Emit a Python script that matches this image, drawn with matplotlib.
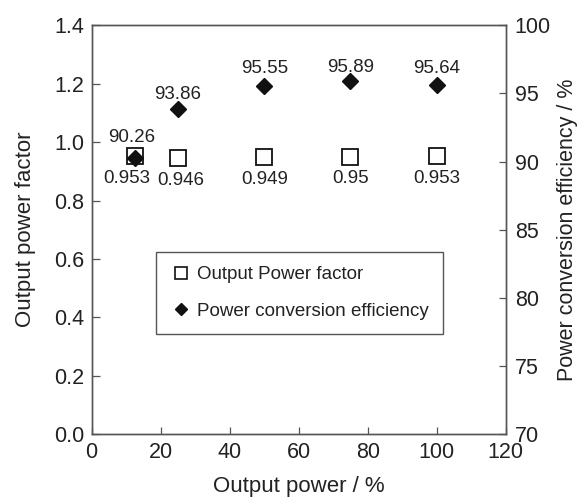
import matplotlib
matplotlib.use("Agg")
import matplotlib.pyplot as plt
from matplotlib.lines import Line2D

plt.rcParams['font.family'] = ['Liberation Sans', 'DejaVu Sans']

# data
load_pct = [12.5, 25, 50, 75, 100]
power_factor = [0.953, 0.946, 0.949, 0.95, 0.953]
efficiency = [90.26, 93.86, 95.55, 95.89, 95.64]

pf_labels = ["0.953", "0.946", "0.949", "0.95", "0.953"]
eff_labels = ["90.26", "93.86", "95.55", "95.89", "95.64"]

txt = '#222222'
spine = '#555555'

fig = plt.figure(figsize=(5.8, 4.98), dpi=100)
ax = fig.add_axes([0.158, 0.1285, 0.714, 0.8205])
ax2 = ax.twinx()

ax.plot(load_pct, power_factor, ls='none', marker='s', ms=11.5,
        mfc='white', mec='#111111', mew=1.3, zorder=3)
ax2.plot(load_pct, efficiency, ls='none', marker='D', ms=8,
         mfc='#111111', mec='#111111', zorder=4)

# value labels
pf_off = [(-6, -16), (2, -16), (0, -16), (0, -16), (0, -16)]
eff_off = [(-2, 14.5), (0, 10.5), (0, 12.5), (0, 10), (0, 12)]
for x, y, s, o in zip(load_pct, power_factor, pf_labels, pf_off):
    ax.annotate(s, (x, y), xytext=o, textcoords='offset points',
                ha='center', va='center', fontsize=13.5, color=txt)
for x, y, s, o in zip(load_pct, efficiency, eff_labels, eff_off):
    ax2.annotate(s, (x, y), xytext=o, textcoords='offset points',
                 ha='center', va='center', fontsize=13.5, color=txt)

ax.set_xlim(0, 120)
ax.set_ylim(0, 1.4)
ax2.set_ylim(70, 100)
ax.set_xticks(range(0, 121, 20))
ax.set_yticks([0, 0.2, 0.4, 0.6, 0.8, 1.0, 1.2, 1.4])
ax.set_yticklabels(["0.0", "0.2", "0.4", "0.6", "0.8", "1.0", "1.2", "1.4"])
ax2.set_yticks(range(70, 101, 5))

for a in (ax, ax2):
    for sp in a.spines.values():
        sp.set_color(spine)
        sp.set_linewidth(1.0)
ax.tick_params(axis='x', direction='in', length=5, width=0.9, color=spine,
               labelsize=15.5, labelcolor=txt, pad=6)
ax.tick_params(axis='y', direction='in', length=6, width=0.9, color=spine,
               labelsize=15.5, labelcolor=txt, pad=5.5)
ax2.tick_params(axis='y', direction='in', length=5, width=0.9, color=spine,
                labelsize=15.5, labelcolor=txt, pad=6.5)

ax.set_xlabel("Output power / %", fontsize=16, color=txt, labelpad=9)
ax.set_ylabel("Output power factor", fontsize=16, color=txt, labelpad=13)
ax2.set_ylabel("Power conversion efficiency / %", fontsize=15.5, color=txt,
               labelpad=4.5)

handles = [
    Line2D([], [], ls='none', marker='s', ms=8, mfc='white', mec='#111111', mew=1.2),
    Line2D([], [], ls='none', marker='D', ms=6, mfc='#111111', mec='#111111'),
]
leg = ax2.legend(handles, ["Output Power factor", "Power conversion efficiency"],
                 loc='upper left', bbox_to_anchor=(0.269, 0.494),
                 bbox_transform=fig.transFigure, borderaxespad=0,
                 fontsize=13.5, handlelength=1.17, handletextpad=0.25,
                 labelspacing=1.05, borderpad=0.75, fancybox=False,
                 framealpha=1, edgecolor=spine, labelcolor=txt)
leg.get_frame().set_linewidth(1.0)

fig.savefig("out.png", dpi=100)
